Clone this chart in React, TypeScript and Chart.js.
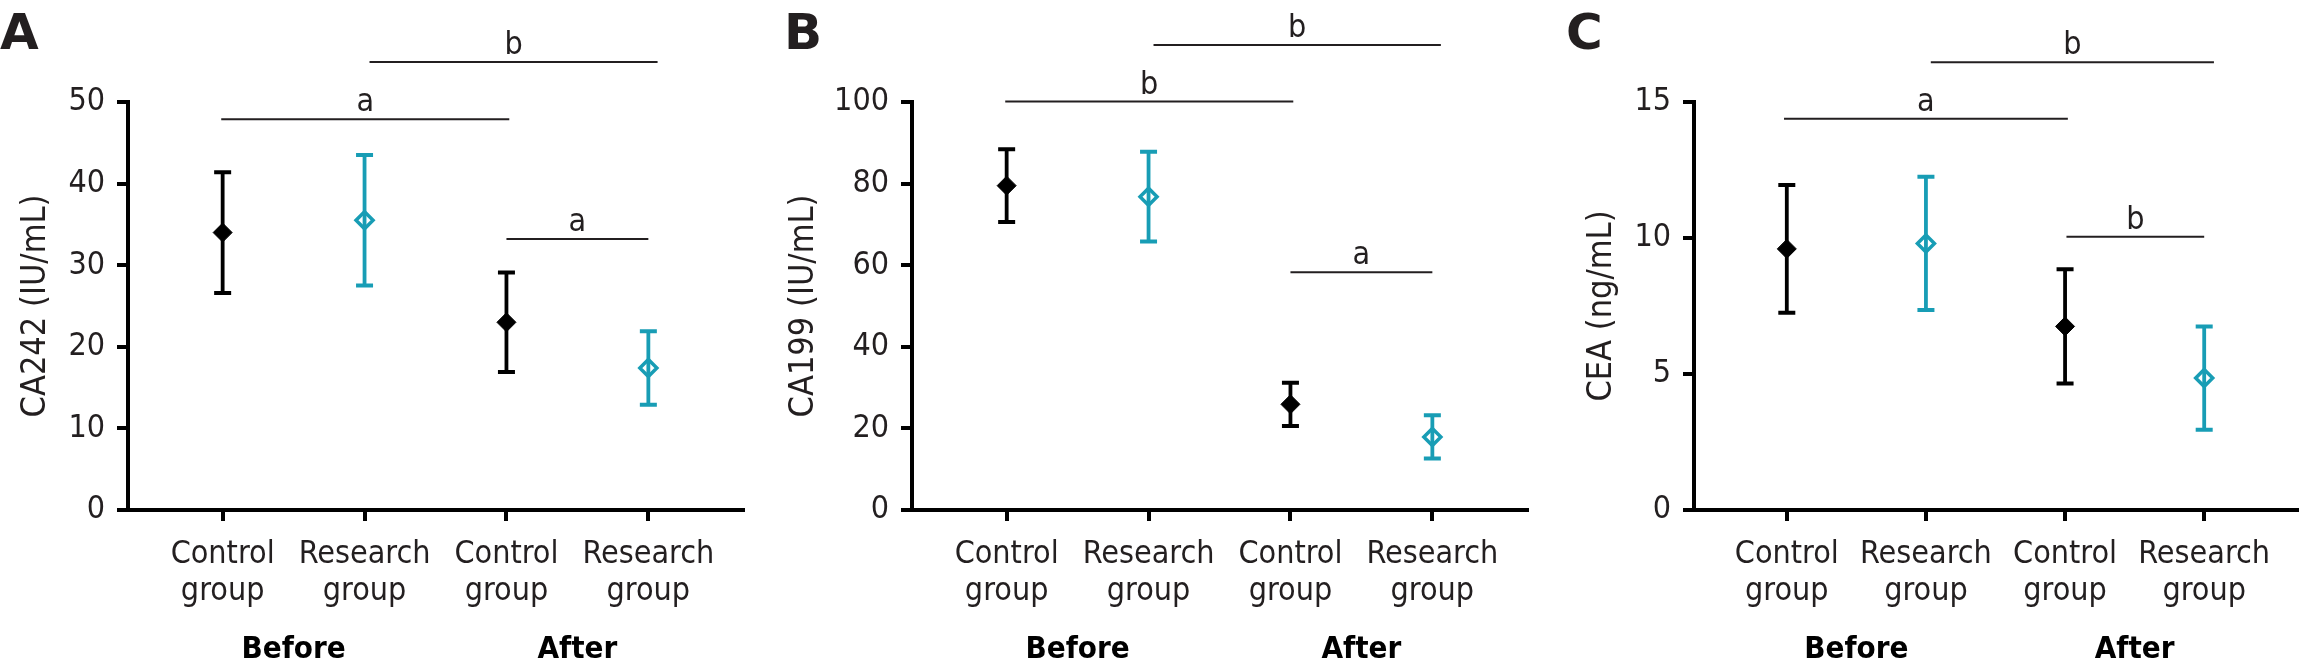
import React, { useEffect, useRef } from 'react';
import { Chart, registerables } from 'chart.js';

Chart.register(...registerables);

// ---------- data ----------
const categoryLabels = [
  ['Control', 'group'],
  ['Research', 'group'],
  ['Control', 'group'],
  ['Research', 'group'],
];
const categoryX = [0, 1, 2, 3];
const phaseLabels = ['Before', 'After'];
const phaseX = [0.5, 2.5];

// Panel A: CA242
const ca242Mean = [34.0, 35.5, 23.0, 17.4];
const ca242SD = [7.4, 8.0, 6.1, 4.5];
const ca242Ticks = { max: 50, step: 10 };
const ca242SigFrom = [-0.01, 1.035, 2.0];
const ca242SigTo = [2.02, 3.065, 3.0];
const ca242SigY = [47.9, 54.9, 33.2];
const ca242SigText = ['a', 'b', 'a'];

// Panel B: CA199
const ca199Mean = [79.5, 76.8, 25.9, 17.9];
const ca199SD = [8.9, 11.0, 5.3, 5.3];
const ca199Ticks = { max: 100, step: 20 };
const ca199SigFrom = [-0.01, 1.035, 2.0];
const ca199SigTo = [2.02, 3.06, 3.0];
const ca199SigY = [100.1, 114.0, 58.3];
const ca199SigText = ['b', 'b', 'a'];

// Panel C: CEA
const ceaMean = [9.6, 9.8, 6.75, 4.85];
const ceaSD = [2.35, 2.45, 2.1, 1.9];
const ceaTicks = { max: 15, step: 5 };
const ceaSigFrom = [-0.02, 1.035, 2.01];
const ceaSigTo = [2.02, 3.07, 3.0];
const ceaSigY = [14.38, 16.46, 10.05];
const ceaSigText = ['a', 'b', 'b'];

// ---------- style ----------
const FONT = "'DejaVu Sans Condensed', 'DejaVu Sans', sans-serif";
const TEXT = '#231f20';
const BLACK = '#000000';
const TEAL = '#189db5';

const errorBarPlugin = {
  id: 'errorBars',
  beforeDatasetsDraw(chart: any) {
    const ctx = chart.ctx;
    const y = chart.scales.y;
    chart.data.datasets.forEach((ds: any, di: number) => {
      const meta = chart.getDatasetMeta(di);
      meta.data.forEach((pt: any, i: number) => {
        const v = ds.data[i].y;
        const e = ds.errors[i];
        const yt = y.getPixelForValue(v + e);
        const yb = y.getPixelForValue(v - e);
        const x = pt.x;
        ctx.save();
        ctx.strokeStyle = ds.borderColor;
        ctx.lineWidth = 3.8;
        ctx.beginPath();
        ctx.moveTo(x, yt);
        ctx.lineTo(x, yb);
        ctx.stroke();
        ctx.lineWidth = 4;
        ctx.beginPath();
        ctx.moveTo(x - 8.5, yt);
        ctx.lineTo(x + 8.5, yt);
        ctx.moveTo(x - 8.5, yb);
        ctx.lineTo(x + 8.5, yb);
        ctx.stroke();
        ctx.restore();
      });
    });
  },
};

const annotationPlugin = {
  id: 'annot',
  afterDraw(chart: any, _args: any, opts: any) {
    const ctx = chart.ctx;
    const xs = chart.scales.x;
    const ys = chart.scales.y;
    ctx.save();
    ctx.strokeStyle = TEXT;
    ctx.lineWidth = 2;
    ctx.fillStyle = TEXT;
    ctx.font = `32px ${FONT}`;
    ctx.textAlign = 'center';
    ctx.textBaseline = 'alphabetic';
    opts.sigY.forEach((v: number, i: number) => {
      const x1 = xs.getPixelForValue(opts.sigFrom[i]);
      const x2 = xs.getPixelForValue(opts.sigTo[i]);
      const yy = ys.getPixelForValue(v);
      ctx.beginPath();
      ctx.moveTo(x1, yy);
      ctx.lineTo(x2, yy);
      ctx.stroke();
      ctx.fillText(opts.sigText[i], (x1 + x2) / 2, yy - 8);
    });
    ctx.fillStyle = BLACK;
    ctx.font = `bold 31px ${FONT}`;
    phaseLabels.forEach((t, i) => {
      ctx.fillText(t, xs.getPixelForValue(phaseX[i]), 658);
    });
    ctx.fillStyle = TEXT;
    ctx.font = `bold 50px 'DejaVu Sans', sans-serif`;
    ctx.textAlign = 'left';
    ctx.fillText(opts.letter, 0, 49);
    ctx.restore();
  },
};

type PanelProps = {
  letter: string;
  yTitle: string;
  mean: number[];
  sd: number[];
  ticks: { max: number; step: number };
  sigFrom: number[];
  sigTo: number[];
  sigY: number[];
  sigText: string[];
  left: number;
  width: number;
  titlePad: number;
};

function Panel(p: PanelProps) {
  const ref = useRef<HTMLCanvasElement>(null);
  useEffect(() => {
    if (!ref.current) return;
    const chart = new Chart(ref.current, {
      type: 'scatter',
      data: {
        datasets: [
          {
            label: 'Control',
            data: [0, 2].map((c) => ({ x: categoryX[c], y: p.mean[c] })),
            errors: [0, 2].map((c) => p.sd[c]),
            pointStyle: 'rectRot',
            pointRadius: 9.5,
            pointBackgroundColor: BLACK,
            pointBorderColor: BLACK,
            pointBorderWidth: 1,
            borderColor: BLACK,
            backgroundColor: BLACK,
            showLine: false,
          } as any,
          {
            label: 'Research',
            data: [1, 3].map((c) => ({ x: categoryX[c], y: p.mean[c] })),
            errors: [1, 3].map((c) => p.sd[c]),
            pointStyle: 'rectRot',
            pointRadius: 8.5,
            pointBackgroundColor: 'rgba(0,0,0,0)',
            pointBorderColor: TEAL,
            pointBorderWidth: 3.5,
            borderColor: TEAL,
            backgroundColor: 'rgba(0,0,0,0)',
            showLine: false,
          } as any,
        ],
      },
      options: {
        animation: false,
        responsive: false,
        devicePixelRatio: 1,
        layout: { padding: { top: 102, right: p.width - 128 - 615, bottom: 0, left: 0 } },
        plugins: {
          legend: { display: false },
          tooltip: { enabled: false },
          annot: {
            letter: p.letter,
            sigFrom: p.sigFrom,
            sigTo: p.sigTo,
            sigY: p.sigY,
            sigText: p.sigText,
          },
        } as any,
        scales: {
          x: {
            type: 'linear',
            min: -0.667,
            max: 3.667,
            afterBuildTicks: (s: any) => {
              s.ticks = categoryX.map((v) => ({ value: v }));
            },
            afterFit: (s: any) => {
              s.height = 154;
            },
            ticks: {
              autoSkip: false,
              maxRotation: 0,
              minRotation: 0,
              padding: 15,
              color: TEXT,
              font: { family: FONT, size: 32, lineHeight: 1.16 },
              callback: (_v: any, i: number) => categoryLabels[i],
            },
            grid: {
              drawOnChartArea: false,
              drawTicks: true,
              tickLength: 11,
              lineWidth: 4,
              color: BLACK,
            },
            border: { display: true, width: 4, color: BLACK },
          },
          y: {
            type: 'linear',
            min: 0,
            max: p.ticks.max,
            afterFit: (s: any) => {
              s.width = 128;
            },
            ticks: {
              stepSize: p.ticks.step,
              padding: 12,
              color: TEXT,
              font: { family: FONT, size: 32 },
            },
            grid: {
              drawOnChartArea: false,
              drawTicks: true,
              tickLength: 11,
              lineWidth: 4,
              color: BLACK,
            },
            border: { display: true, width: 4, color: BLACK },
            title: {
              display: true,
              text: p.yTitle,
              color: TEXT,
              font: { family: FONT, size: 34, lineHeight: 1.2 },
              padding: { top: p.titlePad, bottom: 0 },
            },
          },
        },
      } as any,
      plugins: [errorBarPlugin, annotationPlugin],
    });
    return () => chart.destroy();
  }, []);
  return (
    <canvas
      ref={ref}
      width={p.width}
      height={664}
      style={{ position: 'absolute', left: p.left, top: 0, width: p.width, height: 664 }}
    />
  );
}

export default function App() {
  return (
    <div style={{ position: 'absolute', left: 0, top: 0, width: 2309, height: 664, background: '#fff', overflow: 'hidden' }}>
      <Panel letter="A" yTitle="CA242 (IU/mL)" mean={ca242Mean} sd={ca242SD} ticks={ca242Ticks}
        sigFrom={ca242SigFrom} sigTo={ca242SigTo} sigY={ca242SigY} sigText={ca242SigText}
        left={0} width={783} titlePad={16} />
      <Panel letter="B" yTitle="CA199 (IU/mL)" mean={ca199Mean} sd={ca199SD} ticks={ca199Ticks}
        sigFrom={ca199SigFrom} sigTo={ca199SigTo} sigY={ca199SigY} sigText={ca199SigText}
        left={784} width={783} titlePad={0} />
      <Panel letter="C" yTitle="CEA (ng/mL)" mean={ceaMean} sd={ceaSD} ticks={ceaTicks}
        sigFrom={ceaSigFrom} sigTo={ceaSigTo} sigY={ceaSigY} sigText={ceaSigText}
        left={1566} width={743} titlePad={16} />
    </div>
  );
}
